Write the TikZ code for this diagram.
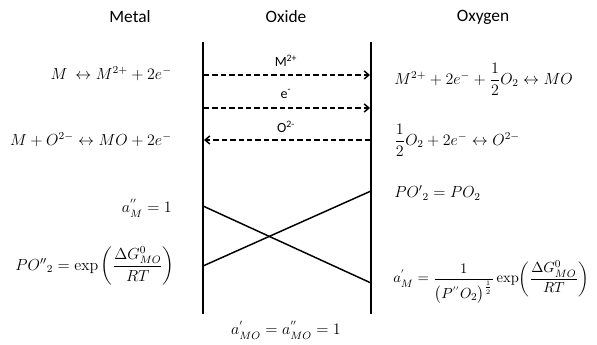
\documentclass[tikz,border=0pt]{standalone}
\usepackage{amsmath}
\usepackage[no-math]{fontspec}
\setmainfont{Carlito}
\usetikzlibrary{arrows.meta, positioning}
\tikzset{
  wall/.style={line width=1.4pt, black},
  flux/.style={-{Straight Barb[length=3.5pt, width=6pt, line width=1.1pt]}, dashed, dash pattern=on 4pt off 2.3pt, line width=1.1pt},
  actline/.style={line width=1.1pt},
  head/.style={font=\fontsize{13}{15}\selectfont},
  species/.style={font=\fontsize{10.5}{12}\selectfont, inner sep=1pt},
  eqL/.style={anchor=east, inner sep=0pt, font=\fontsize{12}{14}\selectfont},
  eqR/.style={anchor=west, inner sep=0pt, font=\fontsize{12}{14}\selectfont},
}
\begin{document}
\begin{tikzpicture}[x=0.75pt, y=-0.75pt]
    \useasboundingbox (0,0) rectangle (597,345);

    % titles
    \node[head] (metal) at (130,17) {Metal};
    \node[head] (oxide) at (286,17) {Oxide};
    \node[head] (oxygen) at (483,17) {Oxygen};

    % the two interfaces
    \coordinate (mTop) at (203,42);
    \coordinate (mBot) at (203,314);
    \coordinate (gTop) at (371,42);
    \coordinate (gBot) at (371,314);
    \draw[wall] (mTop) -- (mBot);
    \draw[wall] (gTop) -- (gBot);

    % transport through the oxide
    \coordinate (m1) at (204,75);
    \coordinate (g1) at (370,75);
    \coordinate (m2) at (204,108);
    \coordinate (g2) at (370,108);
    \coordinate (m3) at (204,140);
    \coordinate (g3) at (370,140);
    \draw[flux] (m1) -- (g1);
    \draw[flux] (m2) -- (g2);
    \draw[flux] (g3) -- (m3);
    \node[species] (cat) at (286,61) {M\textsuperscript{2+}};
    \node[species] (elec) at (286,94) {e\textsuperscript{-}};
    \node[species] (ani) at (286,127) {O\textsuperscript{2-}};

    % reactions
    \node[eqL] (rxA) at (172,74) {$M\ \leftrightarrow M^{2+}+2e^{-}$};
    \node[eqL] (rxB) at (172,140) {$M+O^{2-}\leftrightarrow MO+2e^{-}$};
    \node[eqR] (rxC) at (394,79) {$M^{2+}+2e^{-}+\dfrac{1}{2}O_2\leftrightarrow MO$};
    \node[eqR] (rxD) at (394,140) {$\dfrac{1}{2}O_2+2e^{-}\leftrightarrow O^{2-}$};

    % activity profiles
    \coordinate (aM) at (203,206);
    \coordinate (aG) at (371,283);
    \coordinate (pM) at (203,266);
    \coordinate (pG) at (371,191);
    \draw[actline] (aM) -- (aG);
    \draw[actline] (pM) -- (pG);

    % boundary conditions
    \node[eqL] (bcA) at (172,208) {$a_M^{''}=1$};
    \node[eqL] (bcB) at (175,266) {${PO''}_2=\exp\left(\dfrac{\Delta G_{MO}^{0}}{RT}\right)$};
    \node[eqR] (bcC) at (394,193) {${PO'}_2=PO_2$};
    \node[eqR, font=\fontsize{11}{13}\selectfont] (bcD) at (393,282)
         {$a_M^{'}=\dfrac{1}{\bigl(P^{''}O_2\bigr)^{\frac{1}{2}}}\exp\!\left(\dfrac{\Delta G_{MO}^{0}}{RT}\right)$};
    \node[font=\fontsize{12}{14}\selectfont] (bcE) at (286,330) {$a_{MO}^{'}=a_{MO}^{''}=1$};
\end{tikzpicture}
\end{document}
